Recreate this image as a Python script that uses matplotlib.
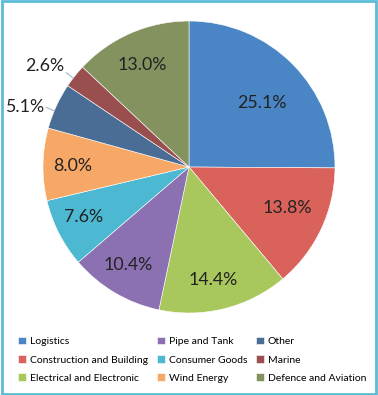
import numpy as np
import matplotlib
matplotlib.use("Agg")
import matplotlib.pyplot as plt
from matplotlib.patches import Rectangle

# data
labels = ["Logistics", "Construction and Building", "Electrical and Electronic",
          "Pipe and Tank", "Consumer Goods", "Wind Energy",
          "Other", "Marine", "Defence and Aviation"]
shares = [25.1, 13.8, 14.4, 10.4, 7.6, 8.0, 5.1, 2.6, 13.0]
colors = ["#4a86c5", "#d9625b", "#a8c75c", "#8b70b2", "#4db8d1",
          "#f8a866", "#4a6d95", "#9a4f4f", "#83925f"]

# label layout (radius as fraction of pie radius, angle shift in degrees)
label_r = [0.665, 0.73, 0.79, 0.79, 0.8, 0.8, 1.2, 1.21, 0.77]
label_shift = [-3.5, 2.5, -2, -1.5, -1.5, 0.5, 4.5, 3.5, 1.3]
outside = ["Other", "Marine"]

plt.rcParams["font.family"] = ["Lato", "DejaVu Sans"]

W, H = 378, 395
fig = plt.figure(figsize=(W / 100, H / 100), dpi=100)
fig.patch.set_facecolor("white")

# pie placement (pixels): centre (189, 167), radius 146
cx, cy, r = 189, 167, 146
ax = fig.add_axes([(cx - r) / W, (H - cy - r) / H, 2 * r / W, 2 * r / H])

wedges, _ = ax.pie(shares, colors=colors, startangle=90, counterclock=False,
                   wedgeprops=dict(edgecolor="white", linewidth=0.4))

for w, lab, v, lr, sh in zip(wedges, labels, shares, label_r, label_shift):
    ang = np.deg2rad((w.theta1 + w.theta2) / 2 + sh)
    txt = f"{v:.1f}%"
    if lab in outside:
        la = ang - np.deg2rad(2.5)
        ax.plot([np.cos(la), np.cos(la) * 1.06], [np.sin(la), np.sin(la) * 1.06],
                color="#9fb8d3", lw=0.8, clip_on=False)
    ax.text(np.cos(ang) * lr, np.sin(ang) * lr, txt, ha="center",
            va="center", fontsize=12.8, color="#222222")

ax.set_xlim(-1, 1)
ax.set_ylim(-1, 1)
ax.set_aspect("equal")
ax.axis("off")

fig.legend(wedges, labels, ncol=3, loc="lower left",
           bbox_to_anchor=(14 / W, 8 / H), frameon=False, fontsize=7.5,
           handlelength=0.75, handleheight=0.75, handletextpad=0.35,
           columnspacing=0.9, labelspacing=0.85, borderaxespad=0)

# outer border
fig.patches.append(Rectangle((0.004, 0.003), 0.992, 0.994, transform=fig.transFigure,
                             fill=False, edgecolor="#5bbcd8", linewidth=2))

fig.savefig("out.png", dpi=100)
